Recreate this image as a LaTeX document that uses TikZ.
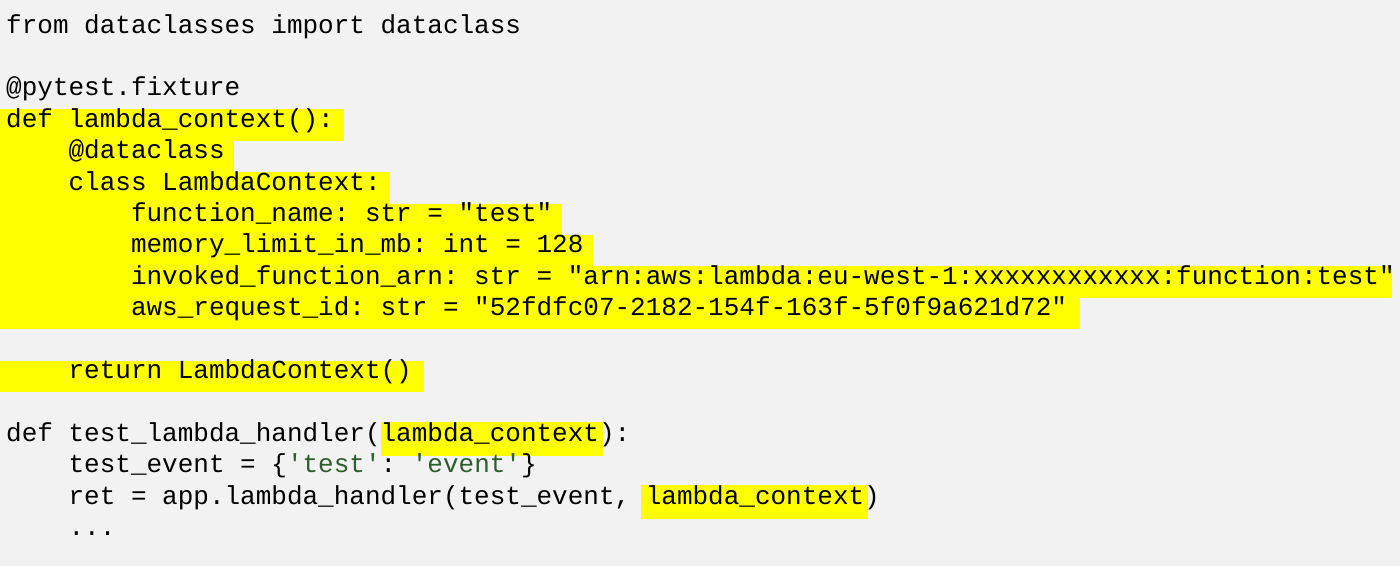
\documentclass[tikz,border=0pt]{standalone}
\usepackage{fontspec}
\setmonofont{Liberation Mono}
\definecolor{bg}{HTML}{F2F2F2}
\definecolor{hl}{HTML}{FFFF00}
\definecolor{strc}{HTML}{2E5E2E}
\tikzset{code/.style={anchor=mid west,inner sep=0pt,font=\fontsize{26}{31}\ttfamily},
hlbox/.style={fill=hl,draw=none}}
\newcommand{\ly}[1]{-31-31.4*#1}
\begin{document}
\begin{tikzpicture}[x=1pt,y=1pt]
\fill[bg] (0,0) rectangle (1400,-566);
\useasboundingbox (0,0) rectangle (1400,-566);
% highlights
\foreach \i/\e in {3/344,4/234,5/390,6/562,7/593,8/1392,9/1080,11/424}{
  \fill[hlbox] (0,{\ly{\i}+15.8}) rectangle (\e,{\ly{\i}-15.8});
}
\fill[hlbox] (381,{\ly{13}+17}) rectangle (603,{\ly{13}-17});
\fill[hlbox] (641,{\ly{15}+17}) rectangle (868,{\ly{15}-17});
% code
\node[code] (l0) at (6,{\ly{0}}) {from dataclasses import dataclass};
\node[code] (l2) at (6,{\ly{2}}) {@pytest.fixture};
\node[code] (l3) at (6,{\ly{3}}) {def lambda\_context():};
\node[code] (l4) at (6,{\ly{4}}) {\ \ \ \ @dataclass};
\node[code] (l5) at (6,{\ly{5}}) {\ \ \ \ class LambdaContext:};
\node[code] (l6) at (6,{\ly{6}}) {\ \ \ \ \ \ \ \ function\_name: str = "test"};
\node[code] (l7) at (6,{\ly{7}}) {\ \ \ \ \ \ \ \ memory\_limit\_in\_mb: int = 128};
\node[code] (l8) at (6,{\ly{8}}) {\ \ \ \ \ \ \ \ invoked\_function\_arn: str = "arn:aws:lambda:eu-west-1:xxxxxxxxxxxx:function:test"};
\node[code] (l9) at (6,{\ly{9}}) {\ \ \ \ \ \ \ \ aws\_request\_id: str = "52fdfc07-2182-154f-163f-5f0f9a621d72"};
\node[code] (l11) at (6,{\ly{11}}) {\ \ \ \ return LambdaContext()};
\node[code] (l13) at (6,{\ly{13}}) {def test\_lambda\_handler(lambda\_context):};
\node[code] (l14) at (6,{\ly{14}}) {\ \ \ \ test\_event = \{\textcolor{strc}{'test'}: \textcolor{strc}{'event'}\}};
\node[code] (l15) at (6,{\ly{15}}) {\ \ \ \ ret = app.lambda\_handler(test\_event, lambda\_context)};
\node[code] (l16) at (6,{\ly{16}}) {\ \ \ \ ...};
\end{tikzpicture}
\end{document}
